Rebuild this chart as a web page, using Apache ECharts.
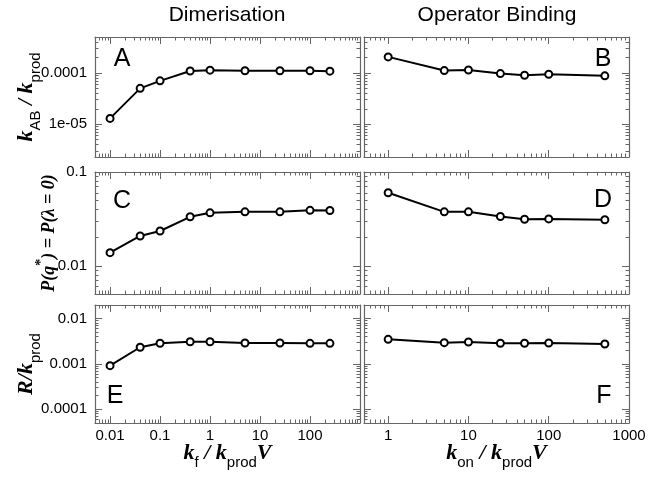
<!DOCTYPE html>
<html>
<head>
<meta charset="utf-8">
<script src="https://cdn.jsdelivr.net/npm/echarts@6/dist/echarts.min.js"></script>
<style>
html, body { margin: 0; padding: 0; background: #fff; }
#chart { width: 664px; height: 477px; }
</style>
</head>
<body>
<div id="chart"></div>
<script>
// x values of the two columns
var kfValues = [0.01, 0.04, 0.1, 0.4, 1, 5, 25, 100, 250];
var konValues = [1, 5, 10, 25, 50, 100, 500];

// panel values
var kabDimer = [1.3e-5, 5e-5, 7e-5, 1.09e-4, 1.13e-4, 1.1e-4, 1.1e-4, 1.1e-4, 1.08e-4];
var kabOperator = [2.05e-4, 1.11e-4, 1.14e-4, 9.7e-5, 9.0e-5, 9.4e-5, 8.75e-5];
var pDimer = [0.0138, 0.0208, 0.0235, 0.0333, 0.0367, 0.0376, 0.0376, 0.039, 0.0388];
var pOperator = [0.060, 0.0376, 0.0376, 0.0335, 0.0313, 0.0316, 0.031];
var rDimer = [9.2e-4, 2.34e-3, 2.86e-3, 3.1e-3, 3.1e-3, 2.9e-3, 2.9e-3, 2.85e-3, 2.85e-3];
var rOperator = [3.5e-3, 2.96e-3, 3.05e-3, 2.87e-3, 2.87e-3, 2.9e-3, 2.76e-3];

// tick labels
var kfTicks = [0.01, 0.1, 1, 10, 100];
var kfTickText = ['0.01', '0.1', '1', '10', '100'];
var konTicks = [1, 10, 100, 1000];
var konTickText = ['1', '10', '100', '1000'];
var kabTicks = [1e-5, 1e-4];
var kabTickText = ['1e-05', '0.0001'];
var pTicks = [0.01, 0.1];
var pTickText = ['0.01', '0.1'];
var rTicks = [1e-4, 1e-3, 1e-2];
var rTickText = ['0.0001', '0.001', '0.01'];

var frameColor = '#666';
var sans = 'Liberation Sans';
var serif = 'Liberation Serif';

function lg(v) { return Math.log10(v); }

function majorTicks(lo, hi) {
    var out = [];
    for (var n = Math.ceil(lo - 1e-9); n <= hi + 1e-9; n++) out.push(n);
    return out;
}
function minorTicks(lo, hi) {
    var out = [];
    for (var n = Math.floor(lo); n <= Math.ceil(hi); n++) {
        for (var k = 2; k <= 9; k++) {
            var v = n + Math.log10(k);
            if (v > lo + 1e-9 && v < hi - 1e-9) out.push(v);
        }
    }
    return out;
}

// sub / superscripts: middle aligned tokens, shifted with one-sided padding
var titleRich = {
    b: {fontFamily: serif, fontWeight: 'bold', fontStyle: 'italic', fontSize: 22, lineHeight: 22, color: '#000'},
    s: {fontFamily: sans, fontSize: 15, lineHeight: 15, padding: [20, 0, 0, 0], color: '#000'},
    p: {fontFamily: serif, fontWeight: 'bold', fontStyle: 'italic', fontSize: 18, lineHeight: 18, color: '#000'},
    sup: {fontFamily: serif, fontWeight: 'bold', fontSize: 14, lineHeight: 14, padding: [0, 0, 16, 0], color: '#000'}
};

function makeAxis(dim, grid, pos, range, major, ticks, tickText, name, nameGap) {
    var lo = lg(range[0]), hi = lg(range[1]);
    var a = {
        type: 'value', gridIndex: grid, position: pos, min: lo, max: hi,
        axisLine: {show: major, onZero: false, lineStyle: {color: frameColor, width: 1.2}},
        axisTick: {show: true, inside: true, length: major ? 7 : 3.5,
            customValues: major ? majorTicks(lo, hi) : minorTicks(lo, hi),
            lineStyle: {color: frameColor, width: 1}},
        axisLabel: {show: false},
        splitLine: {show: false}
    };
    if (ticks) {
        a.axisLabel = {
            show: true, customValues: ticks.map(lg), fontFamily: sans, fontSize: 15, color: '#000',
            margin: dim === 'x' ? 5 : 8,
            formatter: function (v) {
                for (var i = 0; i < ticks.length; i++) {
                    if (Math.abs(lg(ticks[i]) - v) < 1e-6) return tickText[i];
                }
                return '';
            }
        };
    }
    if (name) {
        a.name = name;
        a.nameLocation = 'middle';
        a.nameGap = nameGap;
        a.nameMoveOverlap = false;
        a.nameTextStyle = {rich: titleRich};
    }
    return a;
}

var colLeft = [95, 364];
var colWidth = 265;
var rowTop = [37, 172, 305];
var rowHeight = [120, 122, 118];
var xRanges = [[0.005, 1000], [0.5, 1000]];
var yRanges = [[2.3e-6, 5e-4], [0.005, 0.1], [5e-5, 0.02]];
var yTicks = [[kabTicks, kabTickText], [pTicks, pTickText], [rTicks, rTickText]];
var xTicks = [[kfTicks, kfTickText], [konTicks, konTickText]];
var xNames = ['{b|k}{s|f}{b| / k}{s|prod}{b|V}', '{b|k}{s|on}{b| / k}{s|prod}{b|V}'];
var yNames = ['{b|k}{s|AB}{b| / k}{s|prod}', '{p|P(q}{sup|*}{p|) = P(λ = 0)}', '{b|R/k}{s|prod}'];
var yNameGaps = [58, 37, 58];
var xData = [kfValues, konValues];
var yData = [[kabDimer, kabOperator], [pDimer, pOperator], [rDimer, rOperator]];
var letters = [['A', 'B'], ['C', 'D'], ['E', 'F']];
var letterPos = [[[122, 59], [603, 59]], [[122, 201], [603, 200]], [[115, 396], [604, 396]]];

var grids = [], xAxes = [], yAxes = [], series = [], graphics = [];

for (var r = 0; r < 3; r++) {
    for (var c = 0; c < 2; c++) {
        var g = grids.length;
        grids.push({left: colLeft[c], top: rowTop[r], width: colWidth, height: rowHeight[r], containLabel: false});
        var xi = xAxes.length, yi = yAxes.length;
        var bottomRow = r === 2, leftCol = c === 0;
        xAxes.push(makeAxis('x', g, 'bottom', xRanges[c], true,
            bottomRow ? xTicks[c][0] : null, bottomRow ? xTicks[c][1] : null,
            bottomRow ? xNames[c] : null, 19));
        xAxes.push(makeAxis('x', g, 'bottom', xRanges[c], false));
        xAxes.push(makeAxis('x', g, 'top', xRanges[c], true));
        xAxes.push(makeAxis('x', g, 'top', xRanges[c], false));
        yAxes.push(makeAxis('y', g, 'left', yRanges[r], true,
            leftCol ? yTicks[r][0] : null, leftCol ? yTicks[r][1] : null,
            leftCol ? yNames[r] : null, yNameGaps[r]));
        yAxes.push(makeAxis('y', g, 'left', yRanges[r], false));
        yAxes.push(makeAxis('y', g, 'right', yRanges[r], true));
        yAxes.push(makeAxis('y', g, 'right', yRanges[r], false));

        var xs = xData[c], ys = yData[r][c];
        series.push({
            type: 'line', xAxisIndex: xi, yAxisIndex: yi,
            data: xs.map(function (x, i) { return [lg(x), lg(ys[i])]; }),
            symbol: 'emptyCircle', symbolSize: 7,
            itemStyle: {color: '#000', borderColor: '#000', borderWidth: 1},
            lineStyle: {color: '#000', width: 2},
            animation: false, silent: true
        });

        graphics.push({
            type: 'text', x: letterPos[r][c][0], y: letterPos[r][c][1],
            style: {text: letters[r][c], font: '25px "Liberation Sans"', fill: '#000', textAlign: 'center', textVerticalAlign: 'middle'}
        });
    }
}

graphics.push({type: 'text', x: 227, y: 15, style: {text: 'Dimerisation', font: '21px "Liberation Sans"', fill: '#000', textAlign: 'center', textVerticalAlign: 'middle'}});
graphics.push({type: 'text', x: 497, y: 15, style: {text: 'Operator Binding', font: '21px "Liberation Sans"', fill: '#000', textAlign: 'center', textVerticalAlign: 'middle'}});

var chart = echarts.init(document.getElementById('chart'));
chart.setOption({
    animation: false,
    backgroundColor: '#fff',
    grid: grids,
    xAxis: xAxes,
    yAxis: yAxes,
    series: series,
    graphic: graphics
});
</script>
</body>
</html>
